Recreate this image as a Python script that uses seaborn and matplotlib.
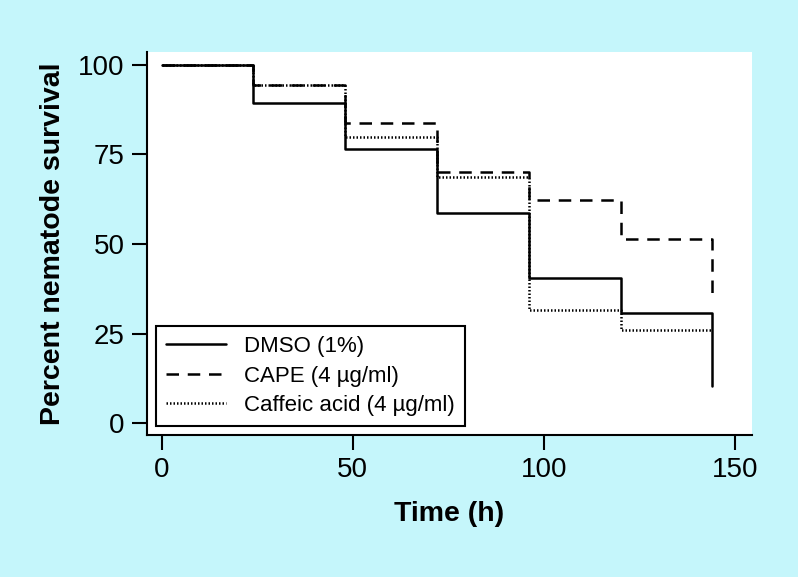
import matplotlib
matplotlib.use("Agg")
import matplotlib.pyplot as plt
import seaborn as sns
import pandas as pd

# time points (h) and percent survival
time_h = [0, 24, 48, 72, 96, 120, 144]
dmso = [100, 89.5, 76.6, 58.8, 40.6, 30.8, 10.4]
cape = [100, 94.4, 83.8, 70.2, 62.2, 51.5, 36.0]
caffeic = [100, 94.4, 79.9, 68.7, 31.5, 26.0, 26.0]

groups = ["DMSO (1%)", "CAPE (4 µg/ml)", "Caffeic acid (4 µg/ml)"]
series = [dmso, cape, caffeic]
styles = ["-", (0, (5, 3.5)), (0, (0.6, 0.8))]

df = pd.concat([pd.DataFrame({"time": time_h, "survival": s, "group": g})
                for g, s in zip(groups, series)], ignore_index=True)

sns.set_style("ticks")
plt.rcParams['font.family'] = ['Liberation Sans', 'DejaVu Sans']

bg = '#c5f6fb'
fig = plt.figure(figsize=(7.98, 5.77), dpi=100, facecolor=bg)
ax = fig.add_axes([0.1842, 0.2461, 0.7582, 0.6638])
ax.set_facecolor('white')

for g, ls in zip(groups, styles):
    sns.lineplot(data=df[df['group'] == g], x='time', y='survival', ax=ax,
                 color='black', linewidth=1.8, linestyle=ls, label=g,
                 drawstyle='steps-post', estimator=None, legend=False)

ax.set_xlim(-3.84, 154.4)
ax.set_ylim(-3.27, 103.6)
ax.set_xticks([0, 50, 100, 150])
ax.set_yticks([0, 25, 50, 75, 100])
ax.tick_params(axis='both', direction='out', length=11, width=1.5,
               labelsize=20, color='black', labelcolor='black', pad=5)
for side in ['top', 'right']:
    ax.spines[side].set_visible(False)
for side in ['left', 'bottom']:
    ax.spines[side].set_linewidth(1.5)
    ax.spines[side].set_color('black')

ax.set_xlabel("Time (h)", fontsize=20.5, fontweight='bold', labelpad=13, color='black')
ax.set_ylabel("Percent nematode survival", fontsize=20.5, fontweight='bold', labelpad=9,
              color='black')

leg = ax.legend(loc='lower left', bbox_to_anchor=(0.0149, 0.0235), borderaxespad=0,
                fontsize=16, frameon=True, fancybox=False, handlelength=2.7,
                labelspacing=0.38, borderpad=0.45, handletextpad=0.8)
leg.get_frame().set_edgecolor('black')
leg.get_frame().set_linewidth(1.5)
leg.get_frame().set_alpha(1)
for t in leg.get_texts():
    t.set_color('black')

plt.savefig('out.png', dpi=100, facecolor=bg)
